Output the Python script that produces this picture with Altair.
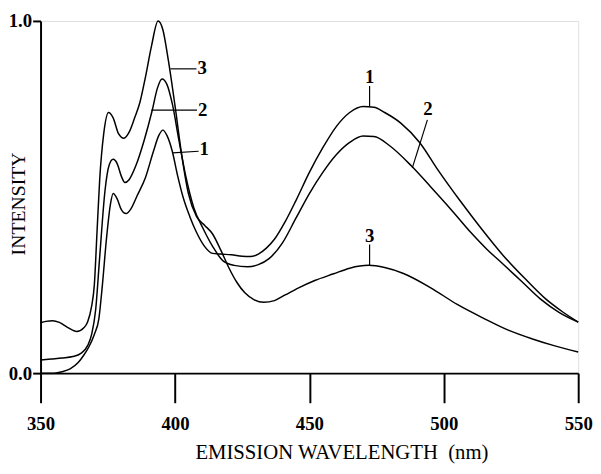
import altair as alt
import pandas as pd

# ---- data ----
wl1 = [350, 355, 358, 361, 364, 366, 368, 370, 371.7, 373, 374.5, 376, 377, 378.5, 380, 381.8,
       383.5, 386, 389, 392, 394, 395.5, 397, 399, 401, 403, 405.5, 408, 411, 414, 417, 421,
       425, 428, 431, 434, 437, 441, 445, 450, 455, 460, 465, 470, 474, 478, 484, 491, 498,
       506, 514, 522, 530, 538, 544, 550]
i1 = [0.0, 0.0, 0.004, 0.012, 0.03, 0.05, 0.075, 0.11, 0.155, 0.25, 0.38, 0.48, 0.51, 0.495,
      0.465, 0.453, 0.465, 0.505, 0.555, 0.63, 0.675, 0.69, 0.675, 0.63, 0.56, 0.5, 0.445, 0.4,
      0.36, 0.34, 0.338, 0.336, 0.332, 0.331, 0.338, 0.355, 0.38, 0.43, 0.49, 0.57, 0.64, 0.7,
      0.74, 0.757, 0.755, 0.74, 0.71, 0.655, 0.575, 0.49, 0.41, 0.335, 0.27, 0.21, 0.175, 0.145]

wl2 = [350, 354, 358, 362, 365, 367.5, 369, 370.5, 372, 374, 375.5, 377, 378.5, 380, 381.4,
       383, 385.5, 388.5, 391.5, 393.5, 395.2, 397, 399, 401.5, 404, 407, 410.5, 414, 418, 422,
       427, 431, 435, 440, 445, 450, 455, 460, 465, 470, 474, 480, 488, 495, 503, 510, 516,
       522, 529, 536, 543, 550]
i2 = [0.037, 0.04, 0.043, 0.047, 0.056, 0.078, 0.11, 0.18, 0.33, 0.52, 0.59, 0.607, 0.595,
      0.56, 0.541, 0.55, 0.59, 0.66, 0.745, 0.81, 0.835, 0.82, 0.765, 0.66, 0.56, 0.47, 0.41,
      0.36, 0.318, 0.306, 0.302, 0.308, 0.325, 0.37, 0.44, 0.51, 0.57, 0.62, 0.655, 0.673,
      0.672, 0.645, 0.588, 0.53, 0.462, 0.4, 0.352, 0.31, 0.26, 0.21, 0.172, 0.145]

wl3 = [350, 352, 354.5, 357, 360, 363.5, 366, 367.5, 369, 370, 371, 372, 373.5, 375.3, 377,
       379, 381, 383, 385, 387, 389, 391.3, 393.7, 395.5, 397.5, 400, 402.5, 405, 408, 411,
       414, 417, 420, 423, 426, 429.5, 433, 437, 441, 446, 452, 459, 465, 472, 478, 485, 495,
       505, 515, 524, 533, 541, 550]
i3 = [0.143, 0.147, 0.149, 0.144, 0.13, 0.118, 0.128, 0.145, 0.19, 0.25, 0.4, 0.55, 0.68,
      0.74, 0.725, 0.68, 0.667, 0.685, 0.725, 0.77, 0.84, 0.93, 1.0, 0.975, 0.89, 0.76, 0.62,
      0.51, 0.445, 0.42, 0.395, 0.35, 0.3, 0.258, 0.228, 0.208, 0.201, 0.206, 0.222, 0.242,
      0.263, 0.282, 0.298, 0.306, 0.3, 0.283, 0.243, 0.195, 0.155, 0.122, 0.097, 0.078, 0.06]

# curve labels: text, text position, leader line
lab_text = ["3", "2", "1", "1", "2", "3"]
lab_x = [408.0, 408.2, 408.8, 472.4, 494.1, 472.4]
lab_y = [0.866, 0.747, 0.635, 0.84, 0.75, 0.39]
lab_align = ["left", "left", "left", "center", "center", "center"]
lead_x = [398.3, 391.2, 399.1, 472.4, 488.3, 472.4]
lead_y = [0.864, 0.747, 0.6255, 0.757, 0.583, 0.306]
lead_x2 = [408.0, 408.2, 408.8, 472.4, 493.9, 472.4]
lead_y2 = [0.864, 0.747, 0.630, 0.815, 0.719, 0.365]

x_ticks = [350, 400, 450, 500, 550]
y_ticks = [0.0, 1.0]

# ---- tables ----
curves = pd.concat([
    pd.DataFrame({"wl": wl1, "intensity": i1, "curve": "1"}),
    pd.DataFrame({"wl": wl2, "intensity": i2, "curve": "2"}),
    pd.DataFrame({"wl": wl3, "intensity": i3, "curve": "3"}),
])
leaders = pd.DataFrame({"x": lead_x, "y": lead_y, "x2": lead_x2, "y2": lead_y2})
labels = pd.DataFrame({"x": lab_x, "y": lab_y, "t": lab_text, "a": lab_align})

serif = "Liberation Serif"
xs = alt.Scale(domain=[350, 550], nice=False, zero=False)
ys = alt.Scale(domain=[0, 1], nice=False)

lines = alt.Chart(curves).mark_line(color="black", strokeWidth=1.5, interpolate="monotone").encode(
    x=alt.X("wl:Q", scale=xs, axis=alt.Axis(
        values=x_ticks, title="EMISSION WAVELENGTH\u00a0 (nm)", format="d",
        tickSize=30, tickWidth=2, tickColor="black", domainColor="black", domainWidth=2,
        labelFont=serif, labelFontWeight="bold", labelFontSize=19, labelColor="black",
        labelPadding=12, labelFlush=False,
        titleFont=serif, titleFontWeight="normal", titleFontSize=21, titleColor="black",
        titleX=305, titleY=81, titleBaseline="middle", titleAlign="center", grid=False)),
    y=alt.Y("intensity:Q", scale=ys, axis=alt.Axis(
        values=y_ticks, format=".1f", title="INTENSITY",
        tickSize=8, tickWidth=2, tickColor="black", domainColor="black", domainWidth=2,
        labelFont=serif, labelFontWeight="bold", labelFontSize=19, labelColor="black",
        labelPadding=1, labelFlush=False,
        titleFont=serif, titleFontWeight="normal", titleFontSize=20, titleColor="black",
        titleX=-22, titleY=185, titleAngle=270, titleBaseline="middle", titleAlign="center",
        grid=False)),
    detail="curve:N",
)

rules = alt.Chart(leaders).mark_rule(color="black", strokeWidth=1.2).encode(
    x=alt.X("x:Q", scale=xs), y=alt.Y("y:Q", scale=ys),
    x2="x2:Q", y2="y2:Q",
)

texts_left = alt.Chart(labels).transform_filter(alt.datum.a == "left").mark_text(
    font=serif, fontWeight="bold", fontSize=19, align="left", baseline="middle", color="black", dx=1
).encode(x=alt.X("x:Q", scale=xs), y=alt.Y("y:Q", scale=ys), text="t:N")

texts_center = alt.Chart(labels).transform_filter(alt.datum.a == "center").mark_text(
    font=serif, fontWeight="bold", fontSize=19, align="center", baseline="middle", color="black"
).encode(x=alt.X("x:Q", scale=xs), y=alt.Y("y:Q", scale=ys), text="t:N")

chart = alt.layer(lines, rules, texts_left, texts_center).properties(
    width=545, height=357,
    autosize=alt.AutoSizeParams(type="none"),
    padding={"left": 33, "top": 10, "right": 15, "bottom": 90},
).configure_view(stroke="black", strokeWidth=1.5).configure(background="white")

chart.save("out.html", embed_options={"renderer": "svg", "actions": False})
